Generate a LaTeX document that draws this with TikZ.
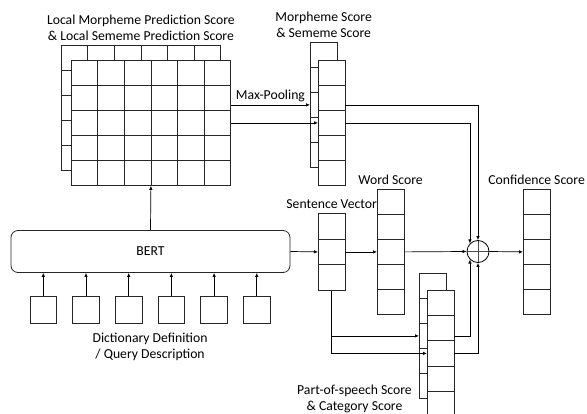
\documentclass[tikz,border=0pt]{standalone}
\usepackage{fontspec}
\setmainfont{Carlito}
\usetikzlibrary{arrows.meta,positioning,calc}
\tikzset{
  cellline/.style={draw=black!85, line width=0.8pt},
  cellbox/.style={cellline, fill=white, inner sep=0pt, anchor=north west},
  vec/.style={cellbox, minimum width=26.5pt, minimum height=125pt},
  tok/.style={cellline, inner sep=0pt, minimum size=26.5pt},
  bertbox/.style={cellline, rounded corners=7pt, minimum width=279pt, minimum height=42pt,
    font=\fontsize{13.7}{16}\selectfont},
  flow/.style={draw=black, line width=0.7pt, -{Latex[length=4pt,width=3.5pt]}},
  lbl/.style={font=\fontsize{13.7}{16}\selectfont, align=center, inner sep=1pt},
  sumnode/.style={circle, draw=black, line width=0.8pt, minimum size=22pt, inner sep=0pt,
    path picture={\draw[black!70, line width=0.6pt]
      (path picture bounding box.north) -- (path picture bounding box.south)
      (path picture bounding box.west) -- (path picture bounding box.east);}}
}
% split lines inside a box node
\newcommand{\cellrows}[2]{%
  \foreach \r in {1,...,#2}{%
    \draw[cellline] ($(#1.north west)!\r/#2!(#1.south west)$) -- ($(#1.north east)!\r/#2!(#1.south east)$);}}
\newcommand{\cellcols}[2]{%
  \foreach \c in {1,...,#2}{%
    \draw[cellline] ($(#1.north west)!\c/#2!(#1.north east)$) -- ($(#1.south west)!\c/#2!(#1.south east)$);}}

\begin{document}
\begin{tikzpicture}[x=1pt, y=-1pt]
  \useasboundingbox (0,0) rectangle (587,414);
  \clip (0,0) rectangle (587,414);

  % local prediction grid
  \node[cellbox, minimum width=159pt, minimum height=125pt] (gridback) at (61,45) {};
  \cellrows{gridback}{5} \cellcols{gridback}{6}
  \node[cellbox, minimum width=159pt, minimum height=125pt] (grid) at (71,60) {};
  \cellrows{grid}{5} \cellcols{grid}{6}
  \node[lbl, above=3pt of gridback] {Local Morpheme Prediction Score\\\& Local Sememe Prediction Score};

  % BERT and inputs
  \node[bertbox] (bert) at (150.5,251.5) {BERT};
  \foreach \i in {0,...,5}{
    \node[tok] (in\i) at ({43.3+42.7*\i},310) {};
    \draw[flow] (in\i.north) -- (in\i.north |- bert.south);
  }
  \coordinate (inmid) at ($(in2.south)!0.5!(in3.south)$);
  \node[lbl, below=8pt of inmid] {Dictionary Definition\\/ Query Description};
  \draw[flow] (bert.north) -- (grid.south);

  % morpheme / sememe score
  \node[vec] (morphback) at (310,42) {};
  \cellrows{morphback}{5}
  \node[vec] (morph) at (318,60) {};
  \cellrows{morph}{5}
  \node[lbl, above=3pt of morphback] {Morpheme Score\\\& Sememe Score};
  \draw[flow] (grid.east |- morphback.west) -- node[lbl, above=2pt] {Max-Pooling} (morphback.west);
  \draw[flow] (grid.east) -- (morph.west);

  % sentence vector and word score
  \node[vec, minimum height=77pt] (sent) at (318,213) {};
  \cellrows{sent}{3}
  \node[lbl, above=3pt of sent] {Sentence Vector};
  \node[vec] (word) at (377,189) {};
  \cellrows{word}{5}
  \node[lbl, above=3pt of word] {Word Score};

  % part-of-speech / category score
  \node[vec] (posback) at (419,273) {};
  \cellrows{posback}{5}
  \node[vec, minimum height=126pt] (pos) at (427,290) {};
  \cellrows{pos}{5}
  \node[lbl, left=6pt of posback.south west] {Part-of-speech Score\\\& Category Score};

  % combination
  \node[sumnode] (sum) at (478,251.5) {};
  \node[vec] (conf) at (523,189) {};
  \cellrows{conf}{5}
  \node[lbl, above=3pt of conf] {Confidence Score};

  \draw[flow] (bert.east) -- (sent.west);
  \draw[flow] (sent.east) -- (word.west);
  \draw[flow] (word.east) -- (sum.west);
  \draw[flow] (sum.east) -- (conf.west);
  \draw[flow] (morph.east |- morphback.west) -| (sum.north);
  \draw[flow] (morph.east) -| (sum.north west);
  \draw[flow] (sent.south) |- (pos.west);
  \draw[flow] (sent.south |- posback.west) -- (posback.west);
  \draw[flow] (pos.east |- posback.west) -| (sum.south west);
  \draw[flow] (pos.east) -| (sum.south);
\end{tikzpicture}
\end{document}
